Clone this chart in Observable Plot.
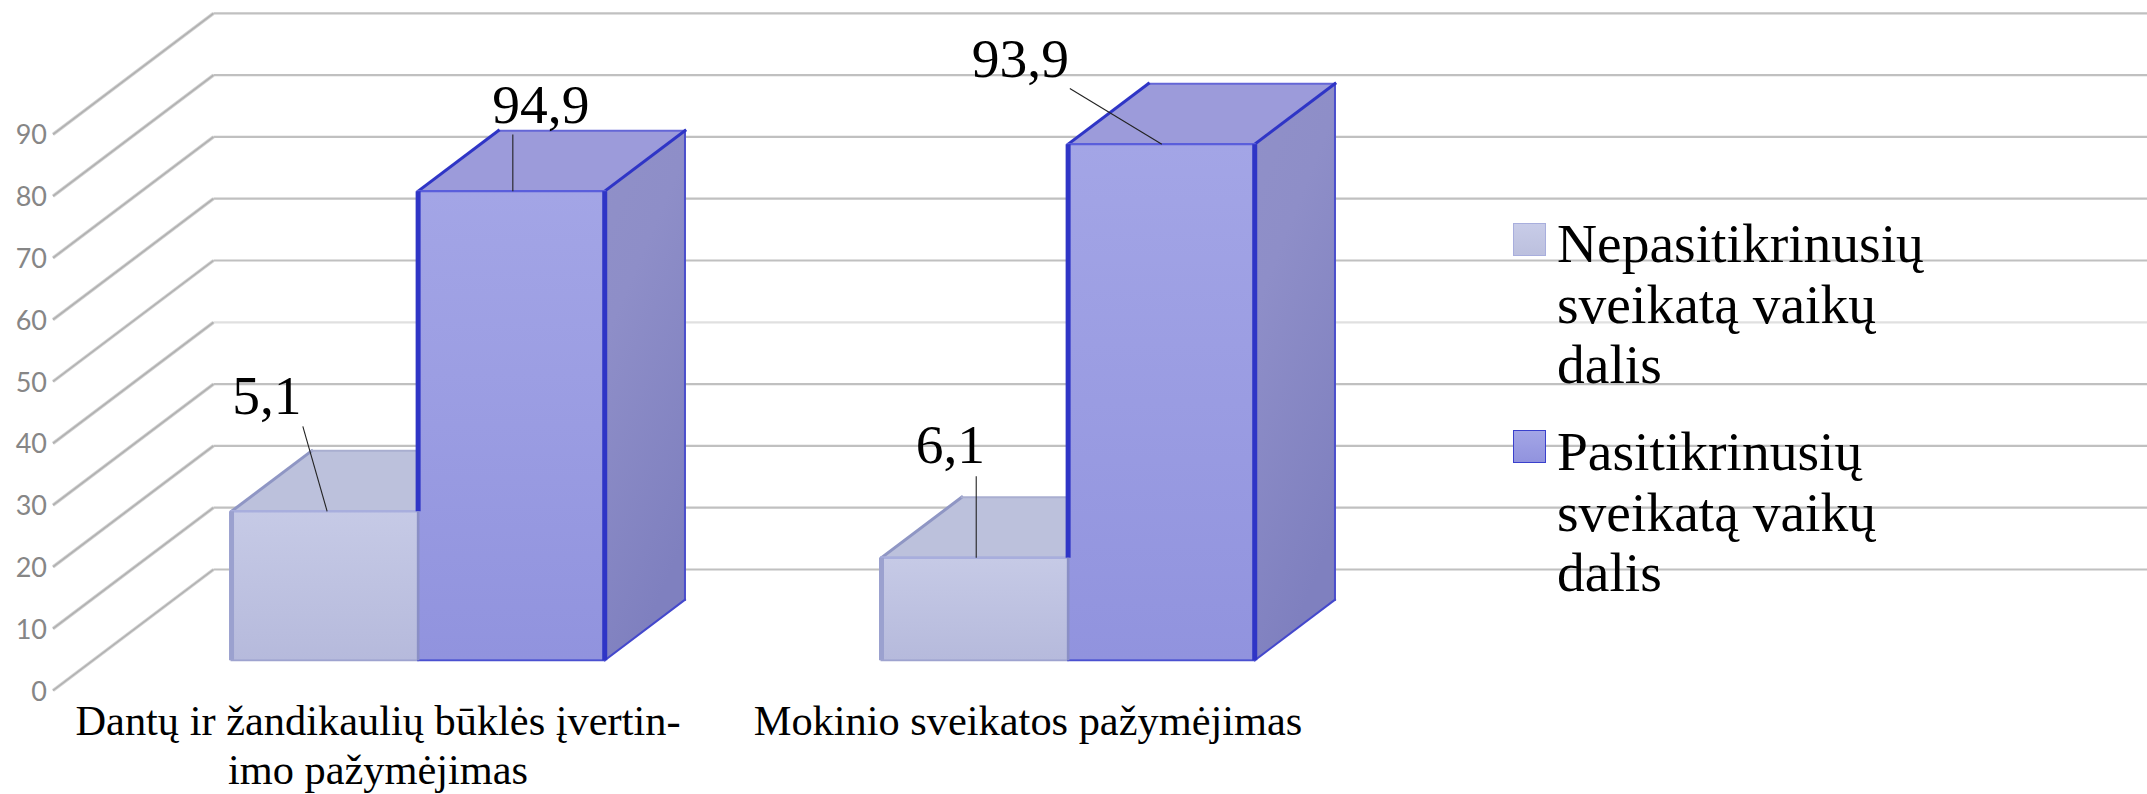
<!DOCTYPE html>
<html lang="lt">
<head>
<meta charset="utf-8">
<title>Sveikatos pažymėjimai</title>
<script src="https://cdn.jsdelivr.net/npm/d3@7"></script>
<script src="https://cdn.jsdelivr.net/npm/@observablehq/plot@0.6"></script>
<style>
  html, body { margin: 0; padding: 0; background: #fff; overflow: hidden; }
  #chart { position: relative; width: 2147px; height: 794px; }
  #chart svg { display: block; }
  .legend { position: absolute; left: 1513px; top: 0; font-family: "Liberation Serif", serif; font-size: 55.5px; line-height: 60.5px; color: #000; }
  .item { position: absolute; left: 0; width: 500px; }
  .swatch { position: absolute; left: 0; top: 0; width: 33px; height: 33px; box-sizing: border-box; }
  .item span { position: absolute; left: 44px; white-space: pre; }
</style>
</head>
<body>
<div id="chart"></div>
<script>
// ---- data ----
const categories = ["Dantų ir žandikaulių būklės įvertin-\nimo pažymėjimas", "Mokinio sveikatos pažymėjimas"];
const seriesNames = ["Nepasitikrinusių\nsveikatą vaikų\ndalis", "Pasitikrinusių\nsveikatą vaikų\ndalis"];
// printed value labels
const labelsNot = [5.1, 6.1];
const labelsYes = [94.9, 93.9];
// heights the bars are actually drawn at, read against the axis (they differ from the printed labels in the source)
const drawnNot = [24.1, 16.6];
const drawnYes = [75.9, 83.5];
const yTicks = [0, 10, 20, 30, 40, 50, 60, 70, 80, 90];

// ---- oblique projection, in scale units ----
const pxPerU = 650, pxPerV = 6.18;
const depthU = 160.5 / pxPerU, depthV = 121 / pxPerV;
const P = (u, v, d) => ({x: u + d * depthU, y: v + d * depthV});
const halfBar = 93.3 / pxPerU, dFront = 0.25, dBack = 0.75;
const xEnd = (2147 - 377.5) / pxPerU;
const f = v => v.toFixed(1).replace(".", ",");

// offsets of printed labels and leader ends from the bar's top-front centre, in px
const layoutNot = [{lx: -58, ly: -97, sx: -22, sy: -85, ex: 2.3}, {lx: -24.5, ly: -94.5, sx: 1.4, sy: -81.5, ex: 1.4}];
const layoutYes = [{lx: 29.4, ly: -68, sx: 1.4, sy: -56.7, ex: 1.4}, {lx: -141, ly: -67.3, sx: -91.6, sy: -55.7, ex: 0.4}];

const bars = [];
categories.forEach((c, i) => {
  bars.push({i, kind: "not", value: drawnNot[i], label: labelsNot[i], left: i - 2 * halfBar, right: i, layout: layoutNot[i]});
  bars.push({i, kind: "yes", value: drawnYes[i], label: labelsYes[i], left: i, right: i + 2 * halfBar, layout: layoutYes[i]});
});
const not = bars.filter(b => b.kind === "not"), yes = bars.filter(b => b.kind === "yes");

const topFace = b => [P(b.left, b.value, dFront), P(b.right, b.value, dFront), P(b.right, b.value, dBack), P(b.left, b.value, dBack), P(b.left, b.value, dFront)].map(p => ({...p, z: b.i}));
const sideFace = b => [P(b.right, 0, dFront), P(b.right, 0, dBack), P(b.right, b.value, dBack), P(b.right, b.value, dFront), P(b.right, 0, dFront)].map(p => ({...p, z: b.i}));
const frontRect = b => ({x1: b.left + dFront * depthU, x2: b.right + dFront * depthU, y1: dFront * depthV, y2: b.value + dFront * depthV});
const seg = (a, b) => ({x1: a.x, y1: a.y, x2: b.x, y2: b.y});
const link = (arr, o) => Plot.link(arr, {x1: "x1", y1: "y1", x2: "x2", y2: "y2", strokeLinecap: "square", ...o});

const wallDiag = yTicks.map(t => seg(P(-0.5, t, 0), P(-0.5, t, 1)));
const wallBack = yTicks.filter(t => t !== 40).map(t => seg(P(-0.5, t, 1), P(xEnd, t, 1)));
const wallFaint = yTicks.filter(t => t === 40).map(t => seg(P(-0.5, t, 1), P(xEnd, t, 1)));

function gradient(id, x2, y2, stops) {
  const g = d3.create("svg:linearGradient").attr("id", id).attr("x1", 0).attr("y1", 0).attr("x2", x2).attr("y2", y2);
  stops.forEach(([o, c]) => g.append("stop").attr("offset", o).attr("stop-color", c));
  return g.node();
}
const defs = () => {
  const d = d3.create("svg:defs").node();
  d.append(gradient("gNot", 0, 1, [[0, "#c6cae6"], [1, "#b6badc"]]));
  d.append(gradient("gYes", 0, 1, [[0, "#a3a5e6"], [1, "#9193de"]]));
  d.append(gradient("gSide", 0.35, 1, [[0, "#9090c8"], [0.35, "#8e8ec8"], [1, "#7f80bf"]]));
  return d;
};

const px = (b) => b.left + dFront * depthU + halfBar;
const topY = (b) => b.value + dFront * depthV;

const plot = Plot.plot({
  width: 2147, height: 794,
  marginLeft: 52.5, marginRight: 0, marginTop: 0, marginBottom: 0,
  x: {domain: [-0.5, xEnd], axis: null},
  y: {domain: [-(794 - 690) / pxPerV, 690 / pxPerV], axis: null},
  style: {background: "#fff", overflow: "visible"},
  marks: [
    defs,
    // back wall and left wall
    link(wallBack, {stroke: "#c0c0c0", strokeWidth: 2.2, strokeLinecap: "butt"}),
    link(wallFaint, {stroke: "#e0e0e0", strokeWidth: 2.2, strokeLinecap: "butt"}),
    link(wallDiag, {stroke: "#d0d0d0", strokeWidth: 3.4, strokeLinecap: "butt"}),
    link(wallDiag, {stroke: "#b0b0b0", strokeWidth: 1.5, strokeLinecap: "butt"}),
    Plot.axisY({ticks: yTicks, tickSize: 0, tickPadding: 6, dy: 1.5, label: null, fontSize: 27, fontFamily: "Lato", fill: "#868686"}),

    // light bars
    Plot.line(not.flatMap(topFace), {x: "x", y: "y", z: "z", fill: "#bcc1dc", stroke: "none"}),
    link(not.map(b => seg(P(b.left, b.value, dFront), P(b.left, b.value, dBack))), {stroke: "#8f96c4", strokeWidth: 3}),
    link(not.map(b => seg(P(b.left, b.value, dBack), P(b.right, b.value, dBack))), {stroke: "#a9aed0", strokeWidth: 2}),
    Plot.rect(not.map(frontRect), {x1: "x1", x2: "x2", y1: "y1", y2: "y2", fill: "url(#gNot)"}),
    link(not.map(b => seg(P(b.left, b.value, dFront), P(b.right, b.value, dFront))), {stroke: "#a8aedd", strokeWidth: 2.6}),
    link(not.map(b => seg(P(b.left, 0, dFront), P(b.left, b.value, dFront))), {stroke: "#9ba1cf", strokeWidth: 5, strokeLinecap: "butt"}),
    link(not.map(b => seg(P(b.left, 0, dFront), P(b.right, 0, dFront))), {stroke: "#9ea3cf", strokeWidth: 2}),

    // dark bars
    Plot.line(yes.flatMap(topFace), {x: "x", y: "y", z: "z", fill: "#9c9bda", stroke: "none"}),
    Plot.line(yes.flatMap(sideFace), {x: "x", y: "y", z: "z", fill: "url(#gSide)", stroke: "none"}),
    Plot.rect(yes.map(frontRect), {x1: "x1", x2: "x2", y1: "y1", y2: "y2", fill: "url(#gYes)"}),
    link(yes.map(b => seg(P(b.left, b.value, dBack), P(b.right, b.value, dBack))), {stroke: "#6466d6", strokeWidth: 2}),
    link(yes.map(b => seg(P(b.right, 0, dBack), P(b.right, b.value, dBack))), {stroke: "#4a4ecb", strokeWidth: 2}),
    link(yes.map(b => seg(P(b.right, 0, dFront), P(b.right, 0, dBack))), {stroke: "#4448cc", strokeWidth: 2}),
    link(yes.map(b => seg(P(b.left, b.value, dFront), P(b.left, b.value, dBack))), {stroke: "#2f35c6", strokeWidth: 3}),
    link(yes.map(b => seg(P(b.right, b.value, dFront), P(b.right, b.value, dBack))), {stroke: "#2f35c6", strokeWidth: 3}),
    link(yes.map(b => seg(P(b.left, b.value, dFront), P(b.right, b.value, dFront))), {stroke: "#5a5edb", strokeWidth: 2.2}),
    link(yes.map(b => seg(P(b.left, 0, dFront), P(b.right, 0, dFront))), {stroke: "#4a50d0", strokeWidth: 2}),
    link(yes.map((b, k) => seg(P(b.left, not[k].value, dFront), P(b.left, b.value, dFront))), {stroke: "#2f35c6", strokeWidth: 5, strokeLinecap: "butt"}),
    link(yes.map((b, k) => seg(P(b.left, 0, dFront), P(b.left, not[k].value, dFront))), {stroke: "#8a8fc6", strokeWidth: 2.6, strokeLinecap: "butt"}),
    link(yes.map(b => seg(P(b.right, 0, dFront), P(b.right, b.value, dFront))), {stroke: "#2f35c6", strokeWidth: 5, strokeLinecap: "butt"}),

    // leaders
    Plot.link(bars, {
      x1: b => px(b) + b.layout.sx / pxPerU, y1: b => topY(b) - b.layout.sy / pxPerV,
      x2: b => px(b) + b.layout.ex / pxPerU, y2: b => topY(b),
      stroke: "#222", strokeWidth: 1.1
    }),
    // printed labels
    Plot.text(bars, {
      x: b => px(b) + b.layout.lx / pxPerU, y: b => topY(b) - b.layout.ly / pxPerV,
      text: b => f(b.label), textAnchor: "middle", lineAnchor: "bottom",
      fontFamily: "Liberation Serif", fontSize: 55.5, fill: "#000"
    }),
    // category labels
    Plot.text(categories, {
      x: (c, i) => i, y: () => -(700 - 690) / pxPerV, text: c => c,
      textAnchor: "middle", lineAnchor: "top", lineHeight: 49 / 42.6,
      fontFamily: "Liberation Serif", fontSize: 42.4, fill: "#000"
    })
  ]
});
const host = document.getElementById("chart");
host.append(plot);

// legend, laid over the wall as in the reference
const legend = d3.select(host).append("div").attr("class", "legend");
const legendTops = [223, 430];
const swatchStyles = [
  "background:linear-gradient(#c8cce8,#bcc0de);border:1px solid #a8aedd",
  "background:linear-gradient(#a3a5e6,#9193de);border:1.5px solid #3a40cc"
];
const textTops = [-9, -8];
seriesNames.forEach((name, i) => {
  const item = legend.append("div").attr("class", "item").style("top", legendTops[i] + "px");
  item.append("div").attr("class", "swatch").attr("style", swatchStyles[i]);
  item.append("span").style("top", textTops[i] + "px").text(name);
});
</script>
</body>
</html>
